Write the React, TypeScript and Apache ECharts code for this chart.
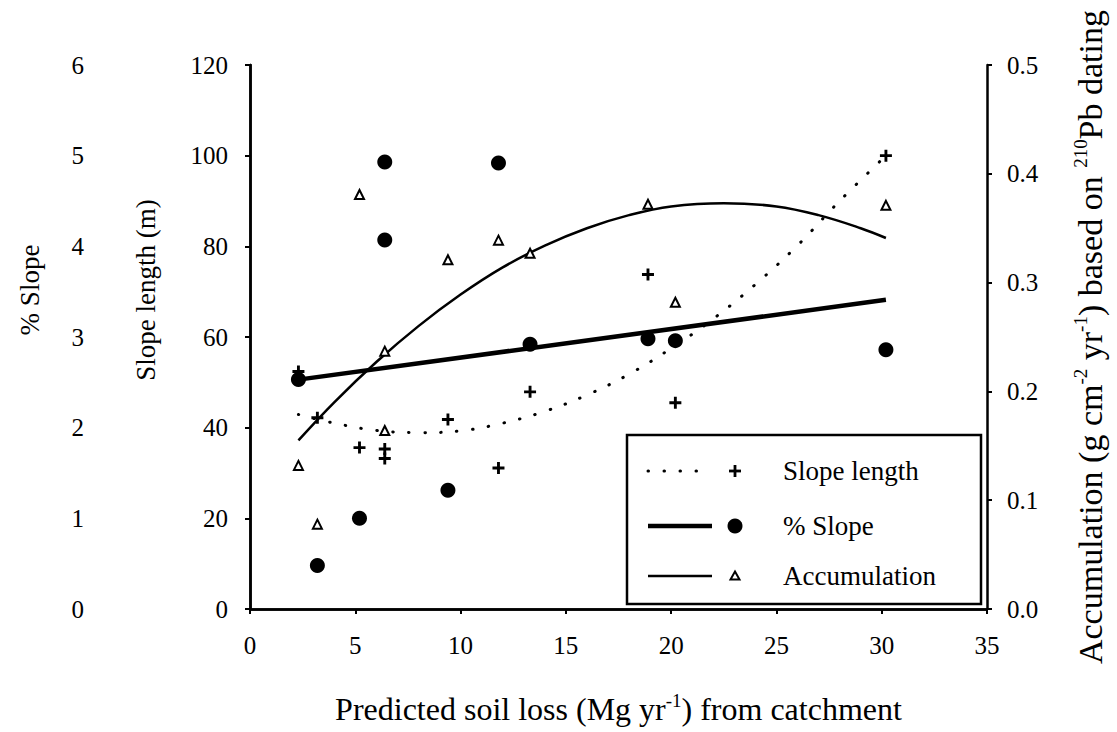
import React, { useEffect, useRef } from "react";
import * as echarts from "echarts";

// Observed points (x = predicted soil loss, Mg/yr)
const soilLoss = [2.3, 3.2, 5.2, 6.4, 6.4, 9.4, 11.8, 13.3, 18.9, 20.2, 30.2];
const slopeLength = [52.4, 42.2, 35.6, 35.3, 33.2, 41.8, 31.1, 47.9, 73.8, 45.5, 100.0];
const pctSlope = [2.53, 0.48, 1.0, 4.93, 4.07, 1.31, 4.92, 2.92, 2.98, 2.96, 2.86];
const accumulation = [0.132, 0.078, 0.381, 0.237, 0.164, 0.321, 0.339, 0.327, 0.372, 0.282, 0.371];

// Fitted curves
const slopeLengthFitX = [2.3, 4, 6, 8, 10, 12, 14, 16, 18, 20, 22, 24, 26, 28, 30.2];
const slopeLengthFitY = [42.9, 41.0, 39.4, 38.9, 39.3, 41.0, 43.6, 47.2, 51.8, 57.5, 64.0, 71.6, 80.2, 90.0, 100.0];
const pctSlopeFitX = [2.3, 30.2];
const pctSlopeFitY = [2.53, 3.41];
const accFitX = [2.3, 4, 6, 8, 10, 12, 14, 16, 18, 20, 22.5, 25, 27, 29, 30.2];
const accFitY = [0.155, 0.19, 0.227, 0.26, 0.289, 0.314, 0.334, 0.35, 0.362, 0.37, 0.373, 0.37, 0.362, 0.35, 0.341];

const legendLabels = ["Slope length", "% Slope", "Accumulation"];
const leftTitles = ["% Slope", "Slope length (m)"];

const FONT = "Liberation Serif";
const PLUS = "path://M3.8,0H6.2V3.8H10V6.2H6.2V10H3.8V6.2H0V3.8H3.8Z";

const pairs = (xs: number[], ys: number[]) => xs.map((x, i) => [x, ys[i]]);

export default function App() {
  const ref = useRef<HTMLDivElement>(null);
  useEffect(() => {
    if (!ref.current) return;
    const chart = echarts.init(ref.current, undefined, { renderer: "svg" });
    const tickLabel = { color: "#000", fontFamily: FONT, fontSize: 25 };
    const axisLine = { show: true, lineStyle: { color: "#000", width: 2.5 } };
    const axisTick = { show: true, inside: false, length: 5, lineStyle: { color: "#000", width: 2 } };
    const sup = { fontSize: 19, lineHeight: 14, verticalAlign: "top", fontFamily: FONT, color: "#000" };

    const lx = 627, ly = 435, lw = 354, lh = 169;
    const rowY = [471, 526, 576];
    const titleX = [30, 146];
    const option: any = {
      animation: false,
      backgroundColor: "#fff",
      grid: { left: 250, right: 124, top: 65, bottom: 117, containLabel: false },
      xAxis: [
        {
          type: "value", position: "bottom", min: 0, max: 35, interval: 5,
          axisLine, axisTick, splitLine: { show: false },
          axisLabel: { ...tickLabel, margin: 24 },
          name: "Predicted soil loss (Mg yr{sup|-1}) from catchment",
          nameLocation: "middle", nameGap: 82,
          nameTextStyle: { fontFamily: FONT, fontSize: 32, lineHeight: 36, color: "#000", rich: { sup } },
        },
        {
          type: "value", position: "top", min: 0, max: 35, interval: 5,
          axisLine, axisTick: { show: false }, axisLabel: { show: false }, splitLine: { show: false },
        },
      ],
      yAxis: [
        {
          type: "value", position: "left", min: 0, max: 120, interval: 20,
          axisLine, axisTick, splitLine: { show: false },
          axisLabel: { ...tickLabel, margin: 22 },
        },
        {
          type: "value", position: "left", offset: 148, min: 0, max: 6, interval: 1,
          axisLine, axisTick, splitLine: { show: false },
          axisLabel: { ...tickLabel, margin: 18 },
        },
        {
          type: "value", position: "right", min: 0, max: 0.5, interval: 0.1,
          axisLine, axisTick, splitLine: { show: false },
          axisLabel: { ...tickLabel, margin: 20, formatter: (v: number) => v.toFixed(1) },
          name: "Accumulation (g cm{sup|-2} yr{sup|-1}) based on {sup|210}Pb dating",
          nameLocation: "middle", nameGap: 84, nameRotate: 90,
          nameTextStyle: { fontFamily: FONT, fontSize: 34, lineHeight: 38, color: "#000", rich: { sup } },
        },
      ],
      series: [
        {
          name: "Slope length fit", type: "line", xAxisIndex: 0, yAxisIndex: 0,
          data: pairs(slopeLengthFitX, slopeLengthFitY), smooth: 0.4, showSymbol: false, symbol: "none",
          lineStyle: { color: "#000", width: 3, type: [0.5, 15.5], cap: "round" }, z: 2,
        },
        {
          name: "Accumulation fit", type: "line", xAxisIndex: 0, yAxisIndex: 2,
          data: pairs(accFitX, accFitY), smooth: 0.4, showSymbol: false, symbol: "none",
          lineStyle: { color: "#000", width: 2.5 }, z: 2,
        },
        {
          name: "% Slope fit", type: "line", xAxisIndex: 0, yAxisIndex: 1,
          data: pairs(pctSlopeFitX, pctSlopeFitY), showSymbol: false, symbol: "none",
          lineStyle: { color: "#000", width: 4.5 }, z: 2,
        },
        {
          name: "Slope length", type: "scatter", xAxisIndex: 0, yAxisIndex: 0,
          data: pairs(soilLoss, slopeLength), symbol: PLUS, symbolSize: 12,
          itemStyle: { color: "#000", opacity: 1 }, z: 3,
        },
        {
          name: "% Slope", type: "scatter", xAxisIndex: 0, yAxisIndex: 1,
          data: pairs(soilLoss, pctSlope), symbol: "circle", symbolSize: 15,
          itemStyle: { color: "#000", opacity: 1 }, z: 3,
        },
        {
          name: "Accumulation", type: "scatter", xAxisIndex: 0, yAxisIndex: 2,
          data: pairs(soilLoss, accumulation), symbol: "triangle", symbolSize: 9,
          itemStyle: { color: "#fff", borderColor: "#000", borderWidth: 2, opacity: 1 }, z: 3,
        },
      ],
      graphic: [
        ...leftTitles.map((t, i) => ({
          type: "text", x: titleX[i], y: 290, rotation: Math.PI / 2,
          style: { text: t, fontFamily: FONT, fontSize: 27, fill: "#000", align: "center", verticalAlign: "middle" },
        })),
        {
          type: "group", z: 10,
          children: [
            { type: "rect", shape: { x: lx, y: ly, width: lw, height: lh }, style: { fill: "#fff", stroke: "#000", lineWidth: 2.5 } },
            { type: "line", shape: { x1: 648, y1: rowY[0], x2: 700, y2: rowY[0] }, style: { stroke: "#000", lineWidth: 3, lineDash: [0.5, 15.5], lineCap: "round" } },
            { type: "rect", shape: { x: 729, y: rowY[0] - 1.4, width: 12, height: 2.8 }, style: { fill: "#000" } },
            { type: "rect", shape: { x: 733.6, y: rowY[0] - 6, width: 2.8, height: 12 }, style: { fill: "#000" } },
            { type: "line", shape: { x1: 648, y1: rowY[1], x2: 712, y2: rowY[1] }, style: { stroke: "#000", lineWidth: 4.5 } },
            { type: "circle", shape: { cx: 735, cy: rowY[1], r: 7.5 }, style: { fill: "#000" } },
            { type: "line", shape: { x1: 648, y1: rowY[2], x2: 712, y2: rowY[2] }, style: { stroke: "#000", lineWidth: 2.5 } },
            { type: "polygon", shape: { points: [[735, rowY[2] - 4.5], [739.5, rowY[2] + 3.5], [730.5, rowY[2] + 3.5]] }, style: { fill: "#fff", stroke: "#000", lineWidth: 2 } },
            ...legendLabels.map((t, i) => ({
              type: "text", x: 783, y: rowY[i],
              style: { text: t, fontFamily: FONT, fontSize: 27, fill: "#000", verticalAlign: "middle", align: "left" },
            })),
          ],
        },
      ],
    };
    chart.setOption(option);
    return () => chart.dispose();
  }, []);
  return <div ref={ref} style={{ position: "absolute", left: 0, top: 0, width: 1117, height: 732 }} />;
}
